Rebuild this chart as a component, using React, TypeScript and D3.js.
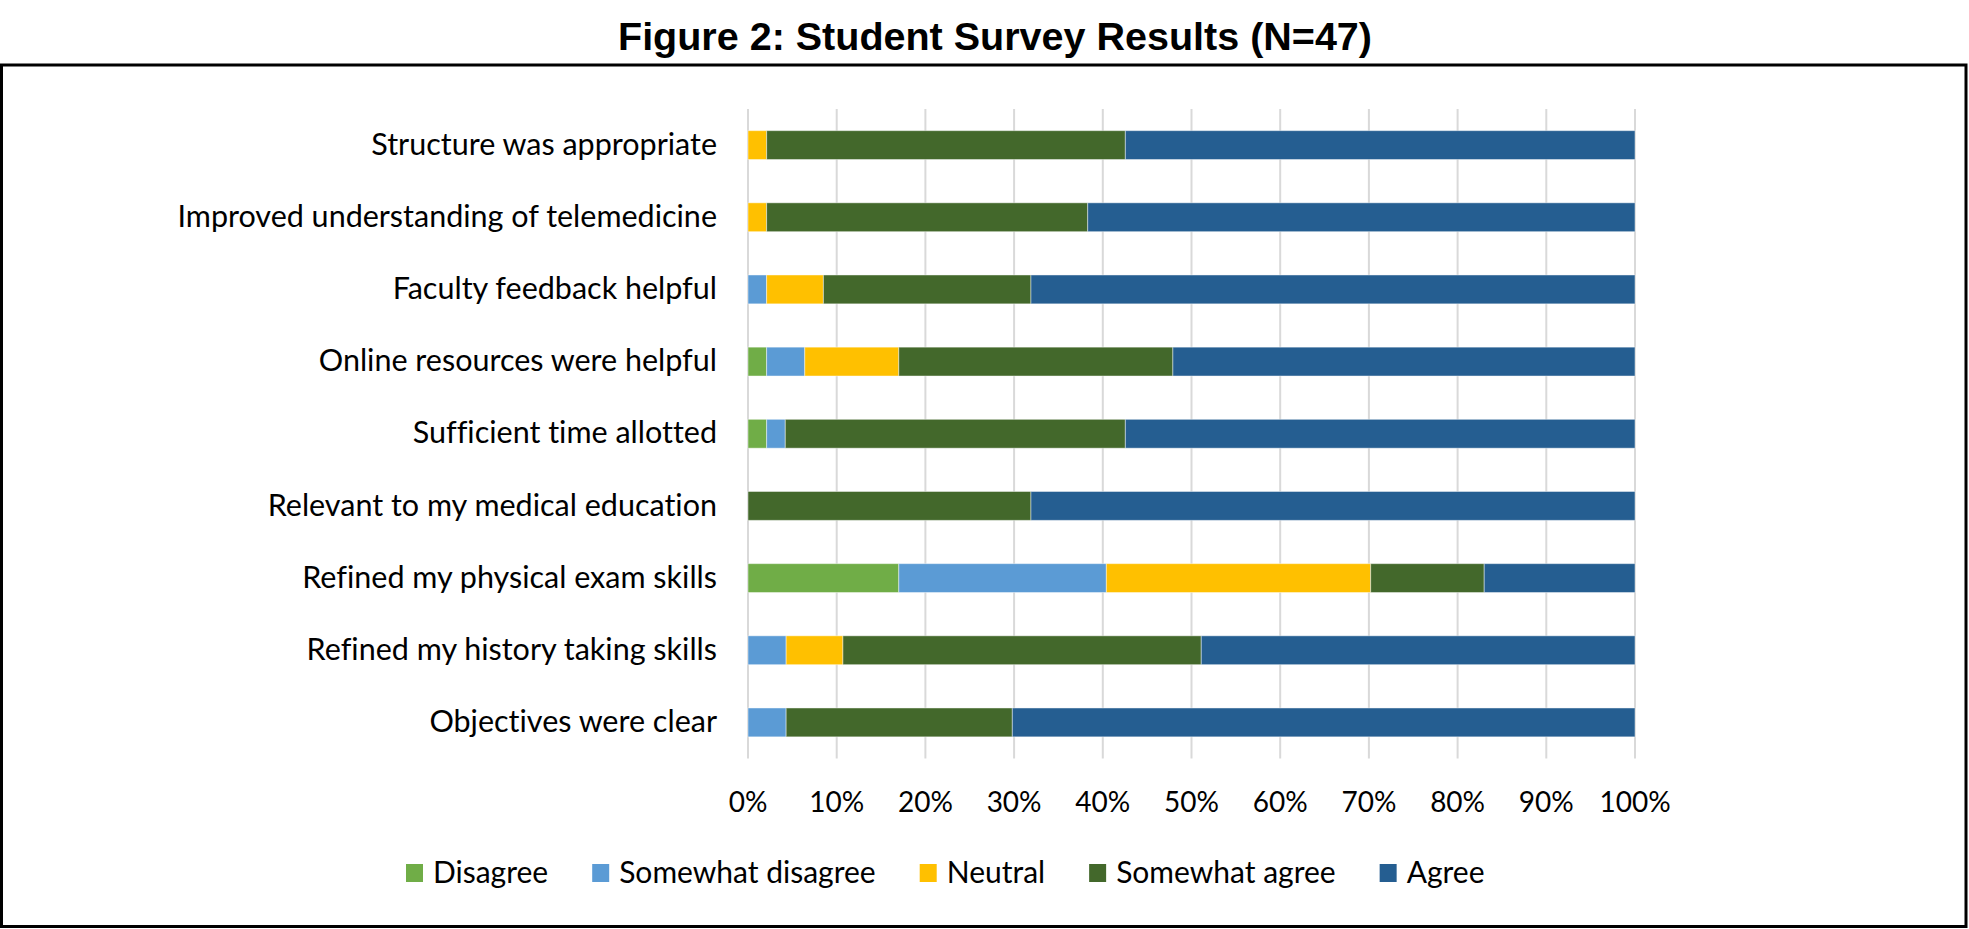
import React from "react";
import * as d3 from "d3";

const CATEGORIES = [
  "Structure was appropriate",
  "Improved understanding of telemedicine",
  "Faculty feedback helpful",
  "Online resources were helpful",
  "Sufficient time allotted",
  "Relevant to my medical education",
  "Refined my physical exam skills",
  "Refined my history taking skills",
  "Objectives were clear",
];
const SERIES = ["Disagree", "Somewhat disagree", "Neutral", "Somewhat agree", "Agree"];
const DISAGREE = [0, 0, 0, 2.1, 2.1, 0, 17.0, 0, 0];
const SOMEWHAT_DISAGREE = [0, 0, 2.1, 4.3, 2.1, 0, 23.4, 4.3, 4.3];
const NEUTRAL = [2.1, 2.1, 6.4, 10.6, 0, 0, 29.8, 6.4, 0];
const SOMEWHAT_AGREE = [40.4, 36.2, 23.4, 30.9, 38.3, 31.9, 12.8, 40.4, 25.5];
const AGREE = [57.4, 61.7, 68.1, 52.1, 57.4, 68.1, 17.0, 48.9, 70.2];
const TICKS = [0, 0.1, 0.2, 0.3, 0.4, 0.5, 0.6, 0.7, 0.8, 0.9, 1.0];
const COLORS = ["#70AD47", "#5B9BD5", "#FFC000", "#43682B", "#255E91"];
const TITLE = "Figure 2: Student Survey Results (N=47)";

const W = 1969;
const H = 929;
const FONT = "Lato, 'Noto Sans', sans-serif";
const LABEL_FS = 30.5;
const TICK_FS = 28;
const LEGEND_FS = 30;
const NOLIG = { fontVariantLigatures: "none", fontFeatureSettings: "'liga' 0, 'clig' 0" } as React.CSSProperties;

export default function App() {
  const rows = CATEGORIES.map((c, i) => ({
    cat: c,
    [SERIES[0]]: DISAGREE[i],
    [SERIES[1]]: SOMEWHAT_DISAGREE[i],
    [SERIES[2]]: NEUTRAL[i],
    [SERIES[3]]: SOMEWHAT_AGREE[i],
    [SERIES[4]]: AGREE[i],
  }));
  const stacked = d3.stack<any>().keys(SERIES).offset(d3.stackOffsetExpand)(rows);

  const x = d3.scaleLinear().domain([0, 1]).range([748, 1635]);
  const y = d3
    .scaleBand<string>()
    .domain(CATEGORIES)
    .range([109, 758.5])
    .paddingInner(0.6)
    .paddingOuter(0.3);
  const color = d3.scaleOrdinal<string, string>().domain(SERIES).range(COLORS);
  const fmt = d3.format(".0%");

  const ctx = typeof document !== "undefined" ? document.createElement("canvas").getContext("2d") : null;
  const measure = (t: string) => {
    if (!ctx) return t.length * LEGEND_FS * 0.5;
    ctx.font = `${LEGEND_FS}px Lato`;
    return ctx.measureText(t).width;
  };
  let lx = 406;
  const legend = SERIES.map((s) => {
    const item = { s, x: lx };
    lx += 17 + 10 + measure(s) + 44;
    return item;
  });

  const capMid = (fs: number) => (0.72 * fs) / 2;

  return (
    <svg width={W} height={H} style={{ position: "absolute", left: 0, top: 0, background: "#fff" }}>
      <rect x={0} y={0} width={W} height={H} fill="#fff" />
      <text
        x={995}
        y={50}
        textAnchor="middle"
        fontFamily="'Liberation Sans', Arial, sans-serif"
        fontWeight="bold"
        fontSize={39.5}
        fill="#000"
      >
        {TITLE}
      </text>
      <rect x={1.5} y={65} width={1964.5} height={861.5} fill="none" stroke="#000" strokeWidth={3} />
      {TICKS.map((t) => (
        <line key={t} x1={x(t)} x2={x(t)} y1={109} y2={758.5} stroke="#D9D9D9" strokeWidth={2} />
      ))}
      {stacked.map((layer) => (
        <g key={layer.key} fill={color(layer.key)}>
          {layer.map((d, i) =>
            d[1] - d[0] > 0 ? (
              <rect
                key={i}
                x={x(d[0])}
                y={y(CATEGORIES[i])}
                width={x(d[1]) - x(d[0])}
                height={y.bandwidth()}
                stroke="#fff"
                strokeOpacity={0.45}
                strokeWidth={1}
              />
            ) : null
          )}
        </g>
      ))}
      {CATEGORIES.map((c) => (
        <text
          key={c}
          x={717}
          y={(y(c) as number) + y.bandwidth() / 2 - 1.3 + capMid(LABEL_FS)}
          textAnchor="end"
          fontFamily={FONT}
          fontSize={LABEL_FS}
          fill="#000"
          style={NOLIG}
        >
          {c}
        </text>
      ))}
      {TICKS.map((t) => (
        <text key={"l" + t} x={x(t)} y={811.7} textAnchor="middle" fontFamily={FONT} fontSize={TICK_FS} fill="#000">
          {fmt(t)}
        </text>
      ))}
      {legend.map((l) => (
        <g key={l.s}>
          <rect x={l.x} y={864} width={17} height={18} fill={color(l.s)} />
          <text x={l.x + 27} y={872.5 + capMid(LEGEND_FS)} fontFamily={FONT} fontSize={LEGEND_FS} fill="#000" style={NOLIG}>
            {l.s}
          </text>
        </g>
      ))}
    </svg>
  );
}
